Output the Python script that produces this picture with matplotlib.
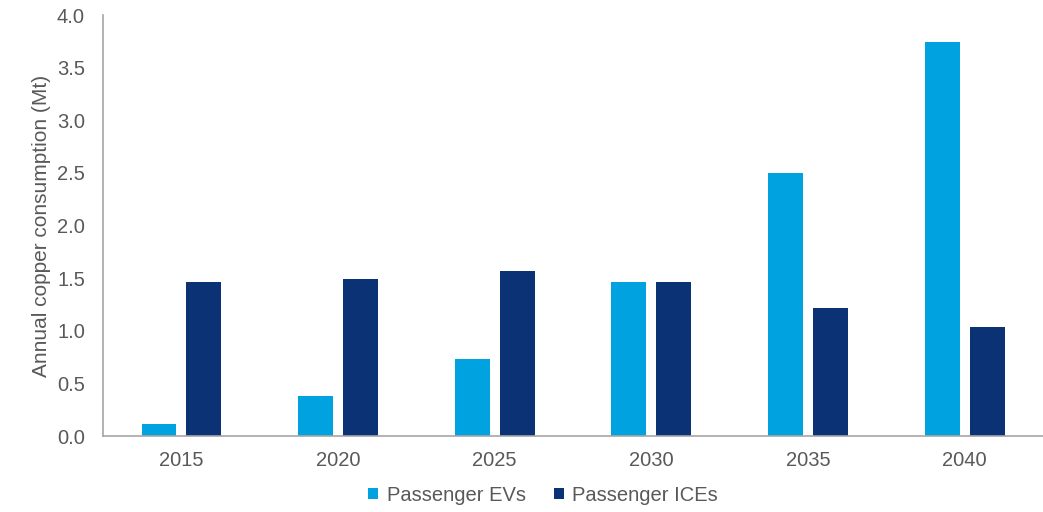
import numpy as np
import matplotlib
matplotlib.use("Agg")
import matplotlib.pyplot as plt

years = ["2015", "2020", "2025", "2030", "2035", "2040"]
ev_values = [0.11, 0.38, 0.73, 1.46, 2.50, 3.74]
ice_values = [1.46, 1.49, 1.57, 1.46, 1.22, 1.04]

C_EV = "#00a3e0"
C_ICE = "#0b3275"
C_TEXT = "#595959"
C_AXIS = "#a6a6a6"

plt.rcParams["font.family"] = ["Liberation Sans", "DejaVu Sans"]

fig = plt.figure(figsize=(10.43, 5.12), dpi=100)
ax = fig.add_axes([0.0988, 0.1484, 0.9012, 0.8223])

x = np.arange(len(years))
w = 0.223
ax.bar(x - 0.143, ev_values, w, color=C_EV, label="Passenger EVs")
ax.bar(x + 0.143, ice_values, w, color=C_ICE, label="Passenger ICEs")

ax.set_xlim(-0.5, len(years) - 0.5)
ax.set_ylim(0, 4.0)
yt = np.arange(0, 4.01, 0.5)
ax.set_yticks(yt)
ax.set_yticklabels([f"{v:.1f}" for v in yt])
ax.set_xticks(x)
ax.set_xticklabels(years)
ax.tick_params(length=0, labelsize=14.5, colors=C_TEXT)
ax.tick_params(axis="x", pad=11)
ax.tick_params(axis="y", pad=13)

for s in ["top", "right"]:
    ax.spines[s].set_visible(False)
for s in ["left", "bottom"]:
    ax.spines[s].set_color(C_AXIS)
    ax.spines[s].set_linewidth(1.2)

ax.set_ylabel("Annual copper consumption (Mt)", fontsize=15, color=C_TEXT)
ax.yaxis.set_label_coords(-0.055, 0.5)

fig.legend(loc="center", bbox_to_anchor=(543 / 1043, 0.033), ncol=2,
           frameon=False, fontsize=14.5, handlelength=0.5, handleheight=0.5,
           handletextpad=0.4, columnspacing=1.4, labelcolor=C_TEXT)

fig.savefig("out.png", dpi=100)
